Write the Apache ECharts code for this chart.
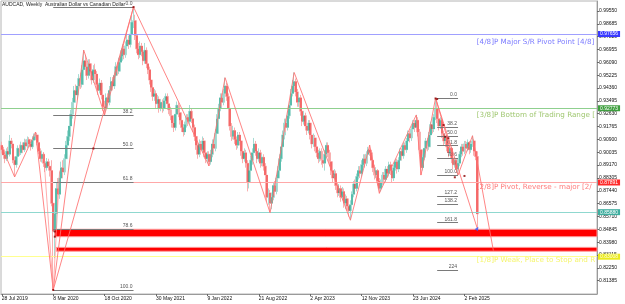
<!DOCTYPE html>
<html><head><meta charset="utf-8">
<script src="https://cdn.jsdelivr.net/npm/echarts@6/dist/echarts.min.js"></script>
<style>html,body{margin:0;padding:0;background:#fff}#c{width:625px;height:304px}</style>
</head><body><div id="c"></div>
<script>
const titleText = 'AUDCAD, Weekly  Australian Dollar vs Canadian Dollar';
const tickLabels = ['28 Jul 2019','8 Mar 2020','18 Oct 2020','30 May 2021','9 Jan 2022','21 Aug 2022','2 Apr 2023','12 Nov 2023','23 Jun 2024','2 Feb 2025'];
const tickStep = 32;
const weekCount = 371;
const yMin = 0.80489, yMax = 1.00224;
const yTicks = [0.81385,0.82250,0.83115,0.83980,0.84845,0.85710,0.86575,0.87440,0.88305,0.89170,0.90035,0.90900,0.91765,0.92630,0.93495,0.94360,0.95225,0.96090,0.96955,0.97820,0.98685,0.99550];
// weekly candles: [open, close, low, high]
const candles = [
[0.9050,0.9020,0.8995,0.9075],[0.9020,0.8985,0.8960,0.9040],[0.8985,0.8960,0.8930,0.9005],[0.8960,0.9010,0.8945,0.9030],
[0.9010,0.8990,0.8970,0.9040],[0.8990,0.9080,0.8975,0.9120],[0.9080,0.9060,0.9030,0.9100],[0.9060,0.8950,0.8930,0.9070],
[0.8950,0.8920,0.8837,0.8975],[0.8920,0.8975,0.8900,0.8995],[0.8975,0.9030,0.8960,0.9050],[0.9030,0.9000,0.8980,0.9055],
[0.9000,0.9050,0.8985,0.9075],[0.9050,0.9020,0.9000,0.9070],[0.9020,0.9070,0.9005,0.9095],[0.9070,0.9045,0.9020,0.9090],
[0.9045,0.9090,0.9030,0.9110],[0.9090,0.9060,0.9040,0.9105],[0.9060,0.9040,0.9015,0.9080],[0.9040,0.9085,0.9025,0.9100],
[0.9085,0.9110,0.9065,0.9130],[0.9110,0.9120,0.9085,0.9140],[0.9120,0.9070,0.9050,0.9135],[0.9070,0.9010,0.8990,0.9085],
[0.9010,0.8960,0.8940,0.9030],[0.8960,0.8990,0.8935,0.9015],[0.8990,0.8930,0.8905,0.9005],[0.8930,0.8900,0.8870,0.8950],
[0.8900,0.8940,0.8880,0.8965],[0.8940,0.8910,0.8880,0.8960],[0.8910,0.8880,0.8840,0.8935],[0.8880,0.8660,0.8640,0.8950],
[0.8660,0.8470,0.8076,0.8700],[0.8470,0.8590,0.8290,0.8650],[0.8590,0.8760,0.8480,0.8800],[0.8760,0.8720,0.8650,0.8830],
[0.8720,0.8830,0.8690,0.8870],[0.8830,0.8900,0.8800,0.8940],[0.8900,0.8870,0.8830,0.8950],[0.8870,0.8960,0.8850,0.8990],
[0.8960,0.9050,0.8940,0.9080],[0.9050,0.9110,0.9020,0.9150],[0.9110,0.9180,0.9080,0.9210],[0.9180,0.9260,0.9150,0.9290],
[0.9260,0.9340,0.9230,0.9370],[0.9340,0.9420,0.9310,0.9450],[0.9420,0.9390,0.9350,0.9460],[0.9390,0.9450,0.9360,0.9480],
[0.9450,0.9500,0.9420,0.9530],[0.9500,0.9460,0.9430,0.9540],[0.9460,0.9560,0.9440,0.9590],[0.9560,0.9620,0.9530,0.9692],
[0.9620,0.9580,0.9550,0.9660],[0.9580,0.9520,0.9490,0.9610],[0.9520,0.9600,0.9500,0.9630],[0.9600,0.9550,0.9520,0.9630],
[0.9550,0.9490,0.9460,0.9570],[0.9490,0.9560,0.9470,0.9590],[0.9560,0.9530,0.9500,0.9600],[0.9530,0.9460,0.9430,0.9550],
[0.9460,0.9420,0.9390,0.9490],[0.9420,0.9470,0.9400,0.9500],[0.9470,0.9390,0.9360,0.9490],[0.9390,0.9310,0.9280,0.9410],
[0.9310,0.9300,0.9255,0.9350],[0.9300,0.9370,0.9280,0.9400],[0.9370,0.9340,0.9310,0.9400],[0.9340,0.9420,0.9320,0.9450],
[0.9420,0.9480,0.9400,0.9510],[0.9480,0.9450,0.9420,0.9510],[0.9450,0.9520,0.9430,0.9550],[0.9520,0.9580,0.9500,0.9610],
[0.9580,0.9550,0.9520,0.9610],[0.9550,0.9610,0.9530,0.9640],[0.9610,0.9650,0.9580,0.9690],[0.9650,0.9700,0.9620,0.9730],
[0.9700,0.9660,0.9630,0.9720],[0.9660,0.9720,0.9640,0.9750],[0.9720,0.9760,0.9690,0.9800],[0.9760,0.9730,0.9700,0.9790],
[0.9730,0.9800,0.9710,0.9840],[0.9800,0.9880,0.9780,0.9920],[0.9880,0.9890,0.9840,0.9982],[0.9890,0.9790,0.9760,0.9930],
[0.9790,0.9700,0.9670,0.9810],[0.9700,0.9660,0.9630,0.9740],[0.9660,0.9720,0.9640,0.9750],[0.9720,0.9680,0.9650,0.9740],
[0.9680,0.9620,0.9590,0.9700],[0.9620,0.9690,0.9600,0.9740],[0.9690,0.9600,0.9570,0.9710],[0.9600,0.9560,0.9530,0.9630],
[0.9560,0.9490,0.9460,0.9580],[0.9490,0.9440,0.9410,0.9510],[0.9440,0.9380,0.9350,0.9460],[0.9380,0.9400,0.9350,0.9430],
[0.9400,0.9330,0.9300,0.9420],[0.9330,0.9360,0.9300,0.9390],[0.9360,0.9300,0.9270,0.9380],[0.9300,0.9340,0.9280,0.9360],
[0.9340,0.9300,0.9270,0.9360],[0.9300,0.9350,0.9280,0.9370],[0.9350,0.9380,0.9320,0.9400],[0.9380,0.9330,0.9300,0.9400],
[0.9330,0.9290,0.9260,0.9350],[0.9290,0.9250,0.9220,0.9310],[0.9250,0.9200,0.9170,0.9270],[0.9200,0.9170,0.9140,0.9230],
[0.9170,0.9260,0.9150,0.9280],[0.9260,0.9320,0.9240,0.9345],[0.9320,0.9270,0.9240,0.9340],[0.9270,0.9220,0.9190,0.9290],
[0.9220,0.9170,0.9140,0.9240],[0.9170,0.9140,0.9110,0.9190],[0.9140,0.9190,0.9120,0.9210],[0.9190,0.9240,0.9170,0.9260],
[0.9240,0.9210,0.9180,0.9260],[0.9210,0.9280,0.9190,0.9322],[0.9280,0.9230,0.9200,0.9300],[0.9230,0.9170,0.9140,0.9250],
[0.9170,0.9110,0.9080,0.9190],[0.9110,0.9050,0.9020,0.9130],[0.9050,0.8990,0.8960,0.9070],[0.8990,0.9060,0.8970,0.9090],
[0.9060,0.9020,0.8990,0.9080],[0.9020,0.9080,0.9000,0.9110],[0.9080,0.9000,0.8970,0.9100],[0.9000,0.8960,0.8930,0.9020],
[0.8960,0.8990,0.8930,0.9010],[0.8990,0.8940,0.8911,0.9010],[0.8940,0.8990,0.8920,0.9020],[0.8990,0.9060,0.8970,0.9090],
[0.9060,0.9030,0.9000,0.9090],[0.9030,0.9130,0.9010,0.9160],[0.9130,0.9230,0.9110,0.9260],[0.9230,0.9300,0.9200,0.9330],
[0.9300,0.9370,0.9280,0.9400],[0.9370,0.9340,0.9310,0.9400],[0.9340,0.9400,0.9320,0.9430],[0.9400,0.9450,0.9380,0.9506],
[0.9450,0.9380,0.9350,0.9470],[0.9380,0.9300,0.9270,0.9400],[0.9300,0.9180,0.9150,0.9310],[0.9180,0.9110,0.9080,0.9200],
[0.9110,0.9150,0.9090,0.9180],[0.9150,0.9090,0.9060,0.9170],[0.9090,0.9050,0.9020,0.9110],[0.9050,0.9120,0.9030,0.9140],
[0.9120,0.9080,0.9050,0.9140],[0.9080,0.9010,0.8980,0.9100],[0.9010,0.8960,0.8930,0.9030],[0.8960,0.9000,0.8940,0.9030],
[0.9000,0.8930,0.8900,0.9020],[0.8930,0.8800,0.8740,0.8950],[0.8800,0.8880,0.8760,0.8910],[0.8880,0.8950,0.8860,0.8980],
[0.8950,0.9000,0.8920,0.9030],[0.9000,0.9060,0.8980,0.9100],[0.9060,0.9010,0.8980,0.9080],[0.9010,0.8960,0.8930,0.9030],
[0.8960,0.9000,0.8940,0.9030],[0.9000,0.8930,0.8900,0.9020],[0.8930,0.8970,0.8910,0.8990],[0.8970,0.8910,0.8880,0.8990],
[0.8910,0.8850,0.8820,0.8930],[0.8850,0.8700,0.8670,0.8870],[0.8700,0.8730,0.8650,0.8760],[0.8730,0.8660,0.8596,0.8750],
[0.8660,0.8700,0.8620,0.8730],[0.8700,0.8780,0.8680,0.8800],[0.8780,0.8740,0.8710,0.8810],[0.8740,0.8830,0.8720,0.8850],
[0.8830,0.8880,0.8800,0.8910],[0.8880,0.8960,0.8860,0.8990],[0.8960,0.9040,0.8940,0.9070],[0.9040,0.9120,0.9010,0.9150],
[0.9120,0.9200,0.9090,0.9230],[0.9200,0.9170,0.9140,0.9230],[0.9170,0.9250,0.9150,0.9280],[0.9250,0.9320,0.9230,0.9350],
[0.9320,0.9400,0.9300,0.9430],[0.9400,0.9450,0.9380,0.9490],[0.9450,0.9480,0.9420,0.9541],[0.9480,0.9410,0.9380,0.9500],
[0.9410,0.9340,0.9310,0.9430],[0.9340,0.9370,0.9310,0.9400],[0.9370,0.9280,0.9250,0.9390],[0.9280,0.9210,0.9180,0.9300],
[0.9210,0.9250,0.9190,0.9280],[0.9250,0.9180,0.9150,0.9270],[0.9180,0.9150,0.9120,0.9200],[0.9150,0.9200,0.9130,0.9220],
[0.9200,0.9120,0.9090,0.9220],[0.9120,0.9060,0.9030,0.9140],[0.9060,0.9100,0.9040,0.9130],[0.9100,0.9040,0.9010,0.9120],
[0.9040,0.9000,0.8970,0.9060],[0.9000,0.8960,0.8930,0.9020],[0.8960,0.9010,0.8940,0.9030],[0.9010,0.8950,0.8920,0.9030],
[0.8950,0.8930,0.8900,0.8980],[0.8930,0.8990,0.8880,0.9020],[0.8990,0.9050,0.8970,0.9070],[0.9050,0.9000,0.8970,0.9070],
[0.9000,0.8940,0.8910,0.9020],[0.8940,0.8880,0.8850,0.8960],[0.8880,0.8830,0.8800,0.8900],[0.8830,0.8860,0.8810,0.8890],
[0.8860,0.8780,0.8750,0.8880],[0.8780,0.8730,0.8700,0.8800],[0.8730,0.8760,0.8710,0.8790],[0.8760,0.8700,0.8670,0.8780],
[0.8700,0.8740,0.8680,0.8770],[0.8740,0.8660,0.8630,0.8760],[0.8660,0.8690,0.8620,0.8720],[0.8690,0.8640,0.8610,0.8710],
[0.8640,0.8610,0.8570,0.8660],[0.8610,0.8650,0.8546,0.8680],[0.8650,0.8720,0.8630,0.8740],[0.8720,0.8790,0.8700,0.8810],
[0.8790,0.8760,0.8730,0.8820],[0.8760,0.8840,0.8740,0.8860],[0.8840,0.8880,0.8820,0.8910],[0.8880,0.8860,0.8830,0.8910],
[0.8860,0.8920,0.8840,0.8950],[0.8920,0.8960,0.8900,0.8990],[0.8960,0.8930,0.8900,0.8990],[0.8930,0.8990,0.8910,0.9010],
[0.8990,0.9020,0.8970,0.9040],[0.9020,0.9000,0.8980,0.9052],[0.9000,0.8950,0.8920,0.9020],[0.8950,0.8900,0.8870,0.8970],
[0.8900,0.8850,0.8820,0.8920],[0.8850,0.8880,0.8830,0.8900],[0.8880,0.8810,0.8780,0.8890],[0.8810,0.8760,0.8727,0.8830],
[0.8760,0.8800,0.8740,0.8820],[0.8800,0.8850,0.8780,0.8870],[0.8850,0.8820,0.8790,0.8870],[0.8820,0.8890,0.8800,0.8910],
[0.8890,0.8860,0.8830,0.8910],[0.8860,0.8920,0.8840,0.8940],[0.8920,0.8880,0.8850,0.8940],[0.8880,0.8830,0.8800,0.8900],
[0.8830,0.8900,0.8810,0.8920],[0.8900,0.8940,0.8880,0.8960],[0.8940,0.8890,0.8860,0.8960],[0.8890,0.8950,0.8870,0.8970],
[0.8950,0.9010,0.8930,0.9030],[0.9010,0.8980,0.8950,0.9030],[0.8980,0.9050,0.8960,0.9070],[0.9050,0.9020,0.8990,0.9070],
[0.9020,0.9080,0.9000,0.9100],[0.9080,0.9130,0.9060,0.9150],[0.9130,0.9100,0.9070,0.9150],[0.9100,0.9160,0.9080,0.9180],
[0.9160,0.9200,0.9140,0.9220],[0.9200,0.9170,0.9140,0.9220],[0.9170,0.9220,0.9150,0.9255],[0.9220,0.9140,0.9110,0.9240],
[0.9140,0.9020,0.8990,0.9160],[0.9020,0.8900,0.8850,0.9040],[0.8900,0.8970,0.8880,0.8990],[0.8970,0.9030,0.8950,0.9050],
[0.9030,0.9080,0.9010,0.9100],[0.9080,0.9040,0.9010,0.9100],[0.9040,0.9120,0.9020,0.9140],[0.9120,0.9190,0.9100,0.9210],
[0.9190,0.9160,0.9130,0.9220],[0.9160,0.9240,0.9140,0.9260],[0.9240,0.9300,0.9220,0.9369],[0.9300,0.9230,0.9200,0.9340],
[0.9230,0.9180,0.9150,0.9250],[0.9180,0.9220,0.9160,0.9240],[0.9220,0.9130,0.9100,0.9230],[0.9130,0.9080,0.9050,0.9150],
[0.9080,0.9110,0.9060,0.9130],[0.9110,0.9040,0.9010,0.9120],[0.9040,0.9000,0.8970,0.9060],[0.9000,0.9030,0.8980,0.9050],
[0.9030,0.8960,0.8930,0.9040],[0.8960,0.8920,0.8890,0.8980],[0.8920,0.8950,0.8900,0.8970],[0.8950,0.8890,0.8865,0.8960],
[0.8890,0.8930,0.8850,0.8960],[0.8930,0.8990,0.8910,0.9010],[0.8990,0.9040,0.8970,0.9060],[0.9040,0.9010,0.8980,0.9060],
[0.9010,0.9060,0.8990,0.9080],[0.9060,0.9030,0.9000,0.9080],[0.9030,0.9070,0.9010,0.9090],[0.9070,0.9020,0.8990,0.9080],
[0.9020,0.9060,0.9000,0.9080],[0.9060,0.9080,0.9040,0.9115],[0.9080,0.9010,0.8980,0.9090],[0.9010,0.8975,0.8950,0.9030],
[0.8975,0.8588,0.8490,0.9010]
];
const murreyLevels = [0.97656, 0.92773, 0.87891, 0.83008];
const murreyTexts = ['[4/8]P Major S/R Pivot Point [4/8]','[3/8]P Bottom of Trading Range [3/8]','[2/8]P Pivot, Reverse - major [2/8]','[1/8]P Weak, Place to Stop and Reverse [1/8]'];
const murreyLineColors = ['#a0a0ff','#8fd08f','#ffa8a8','#ffff90'];
const murreyTextColors = ['#5a5aff','#86b84a','#ff5a5a','#f2f24a'];
const murreyBoxColors = ['#3a3aff','#3f9f3f','#ff2a2a','#eaea20'];
const murreyTextAt = 296;
const fib1Labels = ['0.0','38.2','50.0','61.8','78.6','100.0'];
const fib1 = {x0: 32, x1: 82, high: 0.9982, low: 0.8076};
const fib2Labels = ['0.0','38.2','50.0','61.8','78.6','100.0','127.2','138.2','161.8','224'];
const fib2 = {x0: 271, x1: 284, high: 0.9369, low: 0.8850};
const zigzagMain = [[0,0.9040],[8,0.8837],[21,0.9140],[32,0.8076],[51,0.9692],[64,0.9255],[82,0.9982],[129,0.8911],[139,0.9506],[167,0.8596],[182,0.9541],[217,0.8546],[229,0.9052],[235,0.8727],[258,0.9255],[261,0.8850],[270,0.9369],[284,0.8850],[293,0.9115],[306,0.8341]];
const zigzagFine = [[26,0.9000],[32,0.8076],[36,0.8880]];
const fibTrend = [[32,0.8076],[82,0.9982]];
const dropLine = [[270,0.9369],[296,0.8490]];
const bands = [{from: 33, top: 0.8485, bottom: 0.8435}, {from: 34, top: 0.8363, bottom: 0.8337}];
const anchorDots = [[82,0.9982],[32,0.8076],[57,0.9029],[33,0.8470],[33,0.8435],[270,0.9366],[271,0.9362],[275,0.9187],[276,0.9108],[278,0.9098],[282,0.8835],[288,0.8844]];
const arrowPoint = [[296,0.8490]];

const cats = Array.from({length: weekCount}, (_, i) => String(i));
const bid = candles[candles.length - 1][1];
const FS = 5;
const FF = 'Liberation Sans';

function fibLines(f, labels) {
  return labels.map(l => {
    const v = f.high - parseFloat(l) / 100 * (f.high - f.low);
    return [{coord: [f.x0, v], label: {formatter: l}}, {coord: [f.x1, v]}];
  });
}

const chart = echarts.init(document.getElementById('c'));
chart.setOption({
  animation: false,
  backgroundColor: '#fff',
  title: {text: titleText, left: 2, top: 2, padding: 0, textStyle: {fontSize: FS, fontWeight: 'normal', color: '#222', fontFamily: FF}},
  grid: {left: 1, right: 28, top: 1, bottom: 10, show: true, borderColor: '#b4b4b4', borderWidth: 1, containLabel: false, outerBoundsMode: 'none'},
  xAxis: {
    type: 'category', data: cats, boundaryGap: true,
    axisLine: {lineStyle: {color: '#9a9a9a'}},
    axisTick: {show: true, alignWithLabel: true, length: 2, lineStyle: {color: '#666'},
      interval: (i) => i % tickStep === 0 && i / tickStep < tickLabels.length},
    axisLabel: {interval: (i) => i % tickStep === 0 && i / tickStep < tickLabels.length,
      formatter: (v, i) => tickLabels[Math.round(Number(v) / tickStep)] || '',
      align: 'left', fontSize: FS, color: '#111', margin: 2, fontFamily: FF},
    splitLine: {show: false}
  },
  yAxis: {
    type: 'value', position: 'right', min: yMin, max: yMax,
    axisLine: {show: true, lineStyle: {color: '#9a9a9a'}},
    axisTick: {show: true, customValues: yTicks, length: 2, lineStyle: {color: '#666'}},
    axisLabel: {customValues: yTicks, formatter: v => v.toFixed(5), fontSize: FS, color: '#111', margin: 2, fontFamily: FF},
    splitLine: {show: false}
  },
  series: [
    {
      type: 'candlestick', data: candles, barWidth: 2.4, z: 2,
      itemStyle: {color: '#9fd8cf', color0: '#f8a6a6', borderColor: '#a7dcd4', borderColor0: '#f9b0b0', borderWidth: 1}
    },
    {
      type: 'candlestick', data: candles, barWidth: 1.4, z: 3,
      itemStyle: {color: '#0f9f86', color0: '#f22a2a', borderColor: 'transparent', borderColor0: 'transparent', borderWidth: 0},
      markLine: {
        silent: true, symbol: 'none', z: 4,
        data: murreyLevels.map((v, k) => ({yAxis: v, lineStyle: {color: murreyLineColors[k], width: 1, type: 'solid'},
          label: {show: true, position: 'end', distance: 1, formatter: v.toFixed(5), color: k === 3 ? '#ffffe0' : '#fff',
            backgroundColor: murreyBoxColors[k], padding: [1, 2, 0, 2], fontSize: FS, fontFamily: FF}}))
          .concat([{yAxis: bid, lineStyle: {color: '#8fd8cf', width: 1, type: 'solid'},
            label: {show: true, position: 'end', distance: 1, formatter: bid.toFixed(5), color: '#fff', backgroundColor: '#3fae9f', padding: [1, 2, 0, 2], fontSize: FS, fontFamily: FF}}])
      },
      markArea: {
        silent: true, z: 5,
        itemStyle: {color: '#ff0000', borderColor: '#ff9a9a', borderWidth: 1},
        data: bands.map(b => [{xAxis: b.from, yAxis: b.top}, {yAxis: b.bottom}])
      }
    },
    {
      type: 'line', data: [], z: 4,
      markLine: {
        silent: true, symbol: 'none',
        lineStyle: {color: '#7a7a7a', width: 1, type: 'solid'},
        label: {show: true, position: 'insideEndTop', distance: 1, fontSize: FS, color: '#555', fontFamily: FF},
        data: fibLines(fib1, fib1Labels).concat(fibLines(fib2, fib2Labels))
      }
    },
    {type: 'line', data: zigzagMain, symbol: 'none', z: 6, lineStyle: {color: '#ff7070', width: 1, opacity: 0.85}},
    {type: 'line', data: zigzagFine, symbol: 'none', z: 6, lineStyle: {color: '#ff8a8a', width: 1, opacity: 0.7}},
    {type: 'line', data: fibTrend, symbol: 'none', z: 6, lineStyle: {color: '#ff7070', width: 1, opacity: 0.85}},
    {type: 'line', data: dropLine, symbol: 'none', z: 6, lineStyle: {color: '#ff7070', width: 1, opacity: 0.85}},
    {type: 'scatter', data: anchorDots, symbol: 'rect', symbolSize: 2, z: 7, itemStyle: {color: '#8b0000'}},
    {type: 'scatter', data: arrowPoint, symbol: 'triangle', symbolSize: 4, symbolRotate: -30, z: 7, itemStyle: {color: '#3355ff'}},
    {
      type: 'scatter', z: 8, symbolSize: 1, itemStyle: {color: 'transparent'},
      data: murreyLevels.map((v, k) => ({value: [murreyTextAt, v],
        label: {show: true, formatter: murreyTexts[k], color: murreyTextColors[k], position: [0, 0.5], align: 'left', verticalAlign: 'top',
          fontSize: 7.2, fontFamily: 'DejaVu Sans', width: 120, overflow: 'truncate', ellipsis: ''}}))
    }
  ]
});
</script>
</body></html>
